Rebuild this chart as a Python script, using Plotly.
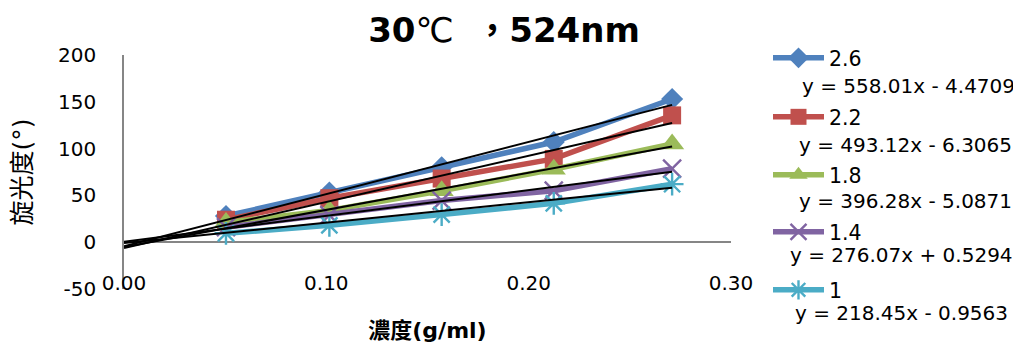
import plotly.graph_objects as go

# ---- data ----
conc = [0.0504, 0.1015, 0.157, 0.2124, 0.2709]          # 濃度 (g/ml)
series_names = ["2.6", "2.2", "1.8", "1.4", "1"]
rot_26 = [28, 53, 80, 107, 153]
rot_22 = [24, 47, 68, 89, 135.5]
rot_18 = [21, 34, 55, 78, 105]
rot_14 = [16, 29, 44.5, 55, 78.5]
rot_10 = [9.5, 18, 29.5, 41.5, 62]
slopes = [558.01, 493.12, 396.28, 276.07, 218.45]
intercepts = [-4.4709, -6.3065, -5.0871, 0.5294, -0.9563]
x_ticks = [0.0, 0.1, 0.2, 0.3]
x_tick_text = ["0.00", "0.10", "0.20", "0.30"]
y_ticks = [-50, 0, 50, 100, 150, 200]
y_tick_text = ["-50", "0", "50", "100", "150", "200"]

values = [rot_26, rot_22, rot_18, rot_14, rot_10]
colors = ["#4F81BD", "#C0504D", "#9BBB59", "#8064A2", "#4BACC6"]
symbols = ["diamond", "square", "triangle-up", "x-thin-open", "asterisk-open"]
msizes = [17, 18, 21, 18, 19]

FONT = "DejaVu Sans, Noto Sans CJK TC, sans-serif"
OFF = 8  # page body margin
W, H = 1021 - OFF, 349 - OFF
L, R, T, B = 124 - OFF, 731 - OFF, 55 - OFF, 289 - OFF

legend_keys = ["legend", "legend2", "legend3", "legend4", "legend5"]
legend_y = [58, 117, 175, 232, 290]

fig = go.Figure()
for i, (nm, ys) in enumerate(zip(series_names, values)):
    open_sym = symbols[i].endswith("open")
    fig.add_trace(go.Scatter(
        x=conc, y=ys, name=nm, mode="lines+markers",
        line=dict(color=colors[i], width=5.5),
        marker=dict(symbol=symbols[i], size=msizes[i], color=colors[i],
                    line=dict(color=colors[i], width=2.4 if open_sym else 0)),
        legend=legend_keys[i],
    ))

# linear trendlines from the equations
for m, b in zip(slopes, intercepts):
    xs = [0.0, max(conc)]
    fig.add_trace(go.Scatter(
        x=xs, y=[m * x + b for x in xs], mode="lines",
        line=dict(color="black", width=2), showlegend=False, hoverinfo="skip",
    ))

# equation labels
eq_left = [800, 797, 797, 788, 793]
eq_y = [86, 145, 201, 255, 313]
for m, b, xl, yc in zip(slopes, intercepts, eq_left, eq_y):
    sign = "-" if b < 0 else "+"
    txt = f"y = {m:.2f}x {sign} {abs(b):.4f}"
    fig.add_annotation(
        text=txt, xref="paper", yref="paper",
        x=(xl - OFF - L) / (R - L), y=(B - (yc - OFF)) / (B - T),
        xanchor="left", yanchor="middle", showarrow=False,
        font=dict(family=FONT, size=20, color="black"),
    )

legends = {}
for key, yc in zip(legend_keys, legend_y):
    legends[key] = dict(
        x=(768 - OFF) / W, xref="container", xanchor="left",
        y=1 - (yc - OFF) / H, yref="container", yanchor="middle",
        font=dict(family=FONT, size=20.5, color="black"),
        bgcolor="rgba(0,0,0,0)", borderwidth=0, itemwidth=51,
    )

fig.update_layout(
    width=W, height=H,
    margin=dict(l=L, r=W - R, t=T, b=H - B, pad=0, autoexpand=False),
    paper_bgcolor="white", plot_bgcolor="white",
    title=dict(
        text="<b>30</b>℃  <b>，524nm</b>",
        x=(504 - OFF) / W, xanchor="center", xref="container",
        y=1 - (30 - OFF) / H, yanchor="middle", yref="container",
        font=dict(family=FONT, size=34, color="black"),
    ),
    font=dict(family=FONT, size=20, color="black"),
    showlegend=True,
    xaxis=dict(
        range=[0, 0.3], tickvals=x_ticks, ticktext=x_tick_text,
        showgrid=False, zeroline=False, showline=False, ticks="",
        ticklabelstandoff=-20, automargin=False,
        tickfont=dict(family=FONT, size=20, color="black"),
        title=dict(text="<b>濃度(g/ml)</b>", font=dict(family=FONT, size=22, color="black"),
                   standoff=28),
    ),
    yaxis=dict(
        range=[-50, 200], tickvals=y_ticks, ticktext=y_tick_text,
        showgrid=False, zeroline=True, zerolinecolor="#868686", zerolinewidth=1.5,
        showline=True, linecolor="#868686", linewidth=1.5, ticks="",
        ticklabelstandoff=22, automargin=False,
        tickfont=dict(family=FONT, size=20, color="black"),
        title=dict(text="旋光度(°)", font=dict(family=FONT, size=25, color="black"),
                   standoff=19),
    ),
    **legends,
)

fig.write_html("out.html")
